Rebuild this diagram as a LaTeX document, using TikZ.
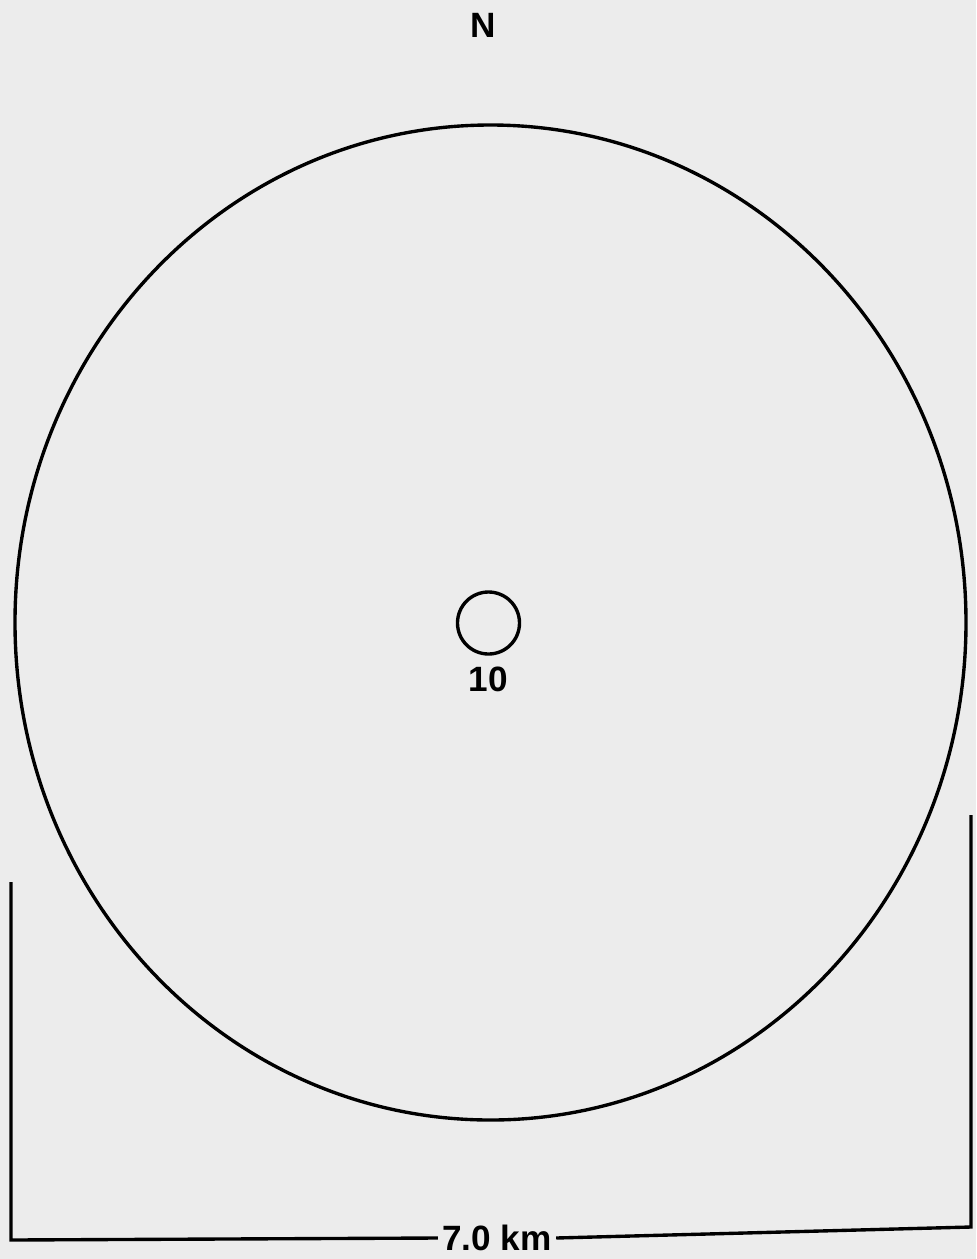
\documentclass[tikz,border=0pt]{standalone}
\usepackage{fontspec}
\setmainfont{Liberation Sans}
\usetikzlibrary{positioning}
\definecolor{paper}{RGB}{236,236,236}
\tikzset{
  ink/.style={line width=2.4pt, black},
  lettering/.style={font=\fontsize{25}{29}\selectfont\bfseries, inner sep=0pt}
}

\begin{document}
\begin{tikzpicture}[x=0.025cm, y=-0.025cm]
        % Paper
        \fill[paper] (0,0) rectangle (976,1259);
        \useasboundingbox (0,0) rectangle (976,1259);

        % North mark
        \node[lettering] (north) at (483,25) {N};

        % Outer boundary
        \draw[ink] (490.5,622.5) ellipse [x radius=475.5, y radius=497.5];

        % Site
        \node[draw, ink, circle, minimum size=1.55cm, inner sep=0pt] (site) at (488.5,623) {};
        \node[lettering, below=0.28cm of site] (sitelabel) {10};

        % Scale bar
        \coordinate (ltop) at (11,882);
        \coordinate (lbot) at (11,1240);
        \coordinate (rtop) at (971,815);
        \coordinate (rbot) at (971,1227);
        \node[lettering, inner xsep=3pt, fill=paper] (dist) at (497,1238) {7.0 km};
        \draw[ink] (ltop) -- (lbot) -- (dist.west);
        \draw[ink] (dist.east) -- (rbot) -- (rtop);

    \end{tikzpicture}
\end{document}
